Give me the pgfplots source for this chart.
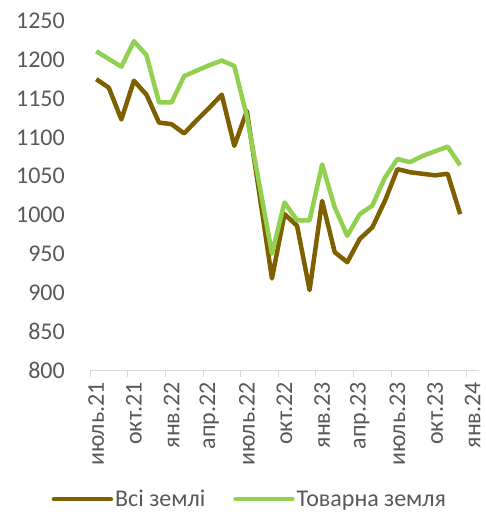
\documentclass[border=0pt]{standalone}
\usepackage{fontspec}
\setmainfont{Carlito}
\usepackage{pgfplots}
\pgfplotsset{compat=1.18}
\definecolor{allland}{HTML}{7F6000}
\definecolor{tradeland}{HTML}{92D050}
\definecolor{txt}{HTML}{595959}
\definecolor{axisgray}{HTML}{D9D9D9}
\pgfplotsset{
    frame/.style={
        at={(90bp,146bp)}, anchor=south west,
        scale only axis, width=389bp, height=349bp,
        xmin=-0.5, xmax=30.5, ymin=800, ymax=1250,
    },
}
\begin{document}
\begin{tikzpicture}
\path[use as bounding box] (0,0) rectangle (486bp,516bp);
% tick marks between the month groups
\begin{axis}[
    frame,
    axis x line*=bottom, axis y line=none,
    x axis line style={draw=none},
    xtick={-0.5,2.5,...,29.5}, xticklabels={}, ytick=\empty,
    major tick length=7bp, tick align=outside,
    tick style={axisgray, line width=0.75bp},
]
\end{axis}
\begin{axis}[
    frame,
    ytick={800,850,...,1250},
    xtick={0,3,...,30},
    xticklabels={июль.21,окт.21,янв.22,апр.22,июль.22,окт.22,янв.23,апр.23,июль.23,окт.23,янв.24},
    major tick length=0pt,
    tick style={draw=none},
    axis lines*=left,
    x axis line style={axisgray, line width=0.75bp},
    y axis line style={draw=none},
    /pgf/number format/assume math mode=true,
    /pgf/number format/1000 sep={},
    ticklabel style={font=\fontsize{24bp}{28bp}\selectfont, text=txt},
    yticklabel style={anchor=east, inner sep=0pt, xshift=-25bp},
    xticklabel style={rotate=90, anchor=east, inner sep=0pt, xshift=-12bp},
    legend columns=2,
    legend style={draw=none, fill=none, at={(0.411,-0.37)}, anchor=center,
        font=\fontsize{24bp}{28bp}\selectfont, text=txt,
        /tikz/every even column/.append style={column sep=26bp}},
    legend image code/.code={\draw[#1, line cap=round] (0bp,0bp) -- (57bp,0bp);},
]
\addplot[allland, line width=4.5bp, line join=round] coordinates {
    (0,1175) (1,1164) (2,1123) (3,1173) (4,1155) (5,1119) (6,1117) (7,1105)
    (8,1122) (9,1138) (10,1155) (11,1089) (12,1134) (13,1027) (14,918)
    (15,1001) (16,986) (17,903) (18,1018) (19,952) (20,939) (21,969)
    (22,984) (23,1018) (24,1059) (25,1055) (26,1053) (27,1051) (28,1053)
    (29,1001)
};
\addlegendentry{Всі землі}
\addplot[tradeland, line width=4.5bp, line join=round] coordinates {
    (0,1211) (1,1201) (2,1191) (3,1224) (4,1206) (5,1145) (6,1145) (7,1179)
    (8,1186) (9,1193) (10,1199) (11,1192) (12,1127) (13,1039) (14,950)
    (15,1016) (16,993) (17,993) (18,1065) (19,1010) (20,973) (21,1001)
    (22,1012) (23,1048) (24,1072) (25,1068) (26,1076) (27,1082) (28,1088)
    (29,1064)
};
\addlegendentry{Товарна земля}
\end{axis}
\end{tikzpicture}
\end{document}
